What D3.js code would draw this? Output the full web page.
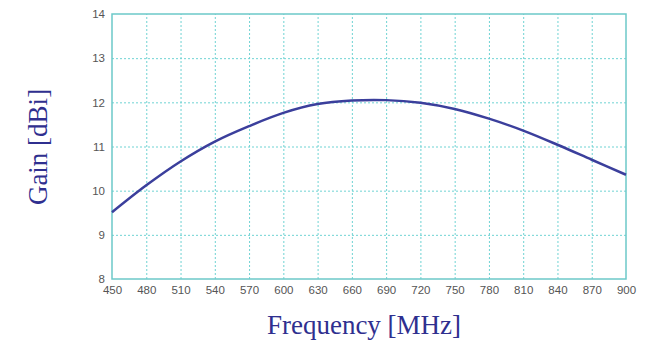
<!DOCTYPE html>
<html>
<head>
<meta charset="utf-8">
<script src="https://d3js.org/d3.v7.min.js"></script>
<style>
  body { margin: 0; background: #fff; }
  .tick text { font-family: "Liberation Sans", Arial, sans-serif; font-size: 11.5px; fill: #555; }
  .grids line { stroke: #6fd3d3; stroke-dasharray: 2,2; stroke-width: 1; }
  .grids .domain { stroke: none; }
</style>
</head>
<body>
<svg id="chart" width="672" height="352"></svg>
<script>
// gain curve
const freqs = [450, 480, 510, 540, 570, 600, 630, 660, 690, 720, 750, 780, 810, 840, 870, 900];
const gains = [9.51, 10.12, 10.66, 11.11, 11.46, 11.76, 11.96, 12.04, 12.05, 11.99, 11.85, 11.63, 11.36, 11.04, 10.7, 10.36];
const xTicks = d3.range(450, 901, 30);
const yTicks = [8, 9, 10, 11, 12, 13, 14];

const margin = {left: 112, top: 14, right: 46, bottom: 73};
const svg = d3.select('#chart');
const W = +svg.attr('width'), H = +svg.attr('height');
const iw = W - margin.left - margin.right;
const ih = H - margin.top - margin.bottom;

const x = d3.scaleLinear().domain([450, 900]).range([0, iw]);
const y = d3.scaleLinear().domain([8, 14]).range([ih, 0]);

const g = svg.append('g').attr('transform', `translate(${margin.left},${margin.top})`);

// dotted grid
g.append('g').attr('class', 'grids')
  .attr('transform', `translate(0,${ih})`)
  .call(d3.axisBottom(x).tickValues(xTicks.slice(1, -1)).tickFormat('').tickSize(-ih));
g.append('g').attr('class', 'grids')
  .call(d3.axisLeft(y).tickValues(yTicks.slice(1, -1)).tickFormat('').tickSize(-iw));

// frame
g.append('rect').attr('width', iw).attr('height', ih)
  .attr('fill', 'none').attr('stroke', '#6cc9c9').attr('stroke-width', 1.5);

// tick labels
const xa = g.append('g').attr('transform', `translate(0,${ih})`)
  .call(d3.axisBottom(x).tickValues(xTicks).tickFormat(d3.format('d')).tickSize(0).tickPadding(7));
xa.select('.domain').remove();
const ya = g.append('g')
  .call(d3.axisLeft(y).tickValues(yTicks).tickFormat(d3.format('d')).tickSize(0).tickPadding(7));
ya.select('.domain').remove();

// curve
const line = d3.line().x((d, i) => x(freqs[i])).y(d => y(d)).curve(d3.curveCatmullRom);
g.append('path').datum(gains)
  .attr('d', line)
  .attr('fill', 'none')
  .attr('stroke', '#3b3f9c')
  .attr('stroke-width', 2.5);

// axis titles
svg.append('text')
  .attr('x', margin.left + iw / 2 - 5).attr('y', 334)
  .attr('text-anchor', 'middle')
  .style('font-family', '"Liberation Serif", "Times New Roman", serif')
  .style('font-size', '27px').style('fill', '#2f2f8f')
  .text('Frequency [MHz]');
svg.append('text')
  .attr('transform', 'translate(47,147) rotate(-90)')
  .attr('text-anchor', 'middle')
  .style('font-family', '"Liberation Serif", "Times New Roman", serif')
  .style('font-size', '27px').style('fill', '#2f2f8f')
  .text('Gain [dBi]');
</script>
</body>
</html>
